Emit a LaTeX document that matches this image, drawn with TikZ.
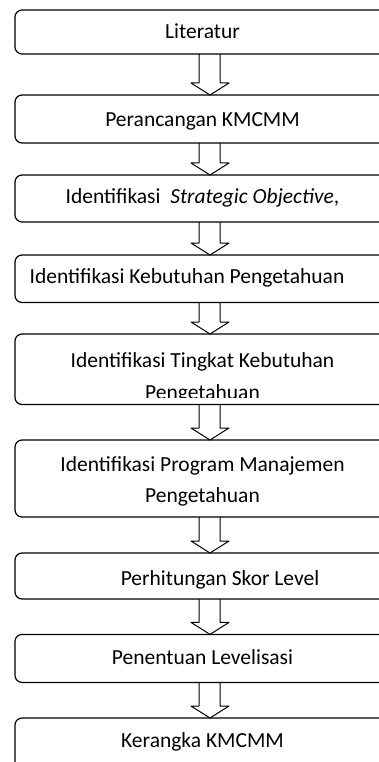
\documentclass[tikz,border=0pt]{standalone}
\usepackage{fontspec}
\setmainfont{Carlito}
\begin{document}
\begin{tikzpicture}[x=1pt,y=-1pt,line join=round,
	box/.style={draw,rounded corners=7pt,line width=1.2pt,minimum width=375pt,outer sep=0pt,inner sep=0pt},
	txt/.style={font=\fontsize{21.5}{31.5}\selectfont,anchor=base,inner sep=0pt},
	blockarrow/.style={draw,line width=1pt}]
	\useasboundingbox (0,0) rectangle (379,762);
	\clip (0,0) rectangle (379,762);
	% boxes
	\node[box,minimum height=44pt] (b1) at (202.5,32) {};
	\node[box,minimum height=48pt] (b2) at (202.5,119) {};
	\node[box,minimum height=47pt] (b3) at (202.5,198.5) {};
	\node[box,minimum height=47.5pt] (b4) at (202.5,278.75) {};
	\node[box,minimum height=70.5pt] (b5) at (202.5,369.25) {};
	\node[box,minimum height=77pt] (b6) at (202.5,478.5) {};
	\node[box,minimum height=46pt] (b7) at (202.5,576) {};
	\node[box,minimum height=48pt] (b8) at (202.5,658.4) {};
	\node[box,minimum height=82pt] (b9) at (202.5,759) {};
	% texts
	\node[txt] (t1) at (202.5,39) {Literatur};
	\node[txt] (t2) at (202.5,127) {Perancangan KMCMM};
	\node[txt] (t3) at (202.5,204) {Identifikasi\ \ \textit{Strategic Objective},};
	\node[txt] (t4) at (187,283) {Identifikasi Kebutuhan Pengetahuan};
	\begin{scope}
		\clip (b5.north west) rectangle ([yshift=7.5pt]b5.south east);
		\node[txt] (t5a) at (202.5,367) {Identifikasi Tingkat Kebutuhan};
		\node[txt] (t5b) at (202.5,399) {Pengetahuan};
	\end{scope}
	\node[txt] (t6a) at (202.5,471) {Identifikasi Program Manajemen};
	\node[txt] (t6b) at (202.5,502) {Pengetahuan};
	\node[txt] (t7) at (220,585) {Perhitungan Skor Level};
	\node[txt] (t8) at (202.5,664) {Penentuan Levelisasi};
	\node[txt] (t9) at (202.5,747) {Kerangka KMCMM};
	% hollow arrows
	\foreach \a/\b in {b1/b2,b2/b3,b3/b4,b4/b5,b5/b6,b6/b7,b7/b8,b8/b9}
		\draw[blockarrow] ([xshift=-3.5pt]\a.south) -- ([xshift=-3.5pt,yshift=12pt]\b.north)
			-- ([xshift=-11.5pt,yshift=12pt]\b.north) -- ([xshift=7.5pt]\b.north)
			-- ([xshift=26.5pt,yshift=12pt]\b.north) -- ([xshift=17.5pt,yshift=12pt]\b.north)
			-- ([xshift=17.5pt]\a.south);
\end{tikzpicture}
\end{document}
